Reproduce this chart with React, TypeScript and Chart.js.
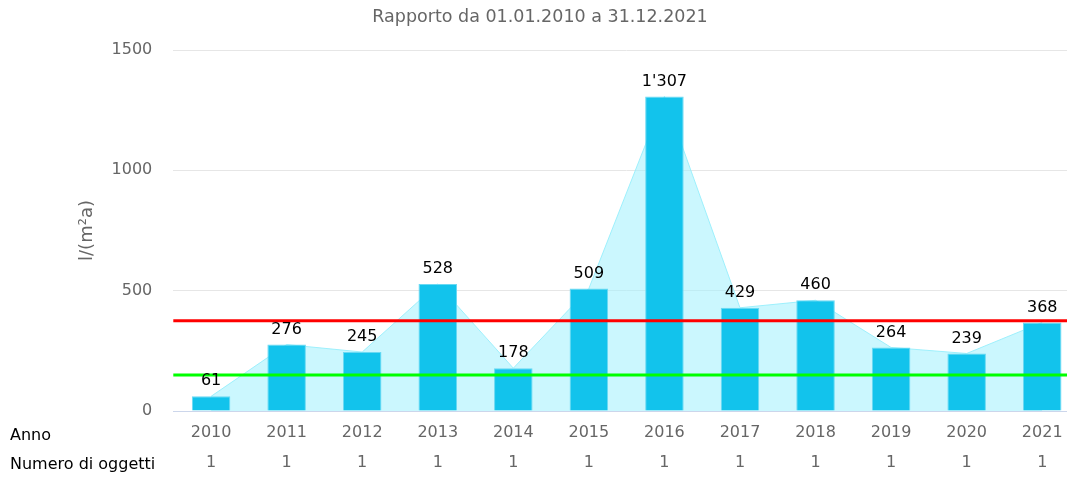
import React, { useEffect, useRef } from "react";
import { Chart, registerables } from "chart.js";

Chart.register(...registerables);

const years = ["2010", "2011", "2012", "2013", "2014", "2015", "2016", "2017", "2018", "2019", "2020", "2021"];
const values = [61, 276, 245, 528, 178, 509, 1307, 429, 460, 264, 239, 368];
const objectCounts = [1, 1, 1, 1, 1, 1, 1, 1, 1, 1, 1, 1];
const yTicks = [0, 500, 1000, 1500];
const redLevel = 375;
const greenLevel = 150;
const titleText = "Rapporto da 01.01.2010 a 31.12.2021";
const yTitle = "l/(m²a)";
const rowLabels = ["Anno", "Numero di oggetti"];

const FONT = "'DejaVu Sans', sans-serif";

function fmt(v: number): string {
  return String(v).replace(/\B(?=(\d{3})+(?!\d))/g, "'");
}

const overlayPlugin = {
  id: "overlay",
  afterDatasetsDraw(chart: any) {
    const { ctx, chartArea, scales } = chart;
    const y = scales.y;
    ctx.save();
    const lines = [
      { v: redLevel, c: "#ff0000" },
      { v: greenLevel, c: "#00ff00" },
    ];
    for (const l of lines) {
      const py = y.getPixelForValue(l.v);
      ctx.beginPath();
      ctx.strokeStyle = l.c;
      ctx.lineWidth = 3;
      ctx.moveTo(chartArea.left, py);
      ctx.lineTo(chartArea.right + 20, py);
      ctx.stroke();
    }
    const meta = chart.getDatasetMeta(0);
    ctx.fillStyle = "#000000";
    ctx.font = `16px ${FONT}`;
    ctx.textAlign = "center";
    ctx.textBaseline = "bottom";
    meta.data.forEach((bar: any, i: number) => {
      ctx.fillText(fmt(values[i]), bar.x, bar.y - 7);
    });
    ctx.restore();
  },
  afterDraw(chart: any) {
    const { ctx, scales } = chart;
    const x = scales.x;
    ctx.save();
    ctx.fillStyle = "#000000";
    ctx.font = `16px ${FONT}`;
    ctx.textAlign = "left";
    ctx.textBaseline = "middle";
    ctx.fillText(rowLabels[0], 10, x.top + 7 + 15 + 3);
    ctx.fillText(rowLabels[1], 10, x.top + 7 + 45 + 2);
    ctx.restore();
  },
};

export default function App() {
  const ref = useRef<HTMLCanvasElement | null>(null);
  useEffect(() => {
    if (!ref.current) return;
    const chart = new Chart(ref.current, {
      type: "bar",
      data: {
        labels: years.map((y, i) => [y, String(objectCounts[i])]),
        datasets: [
          {
            type: "bar",
            data: values,
            backgroundColor: "#12c3ec",
            borderColor: "#6ad9f3",
            borderWidth: 1,
            barPercentage: 0.51,
            categoryPercentage: 1,
            order: 1,
          },
          {
            type: "line",
            data: values,
            fill: "origin",
            backgroundColor: "rgba(160,240,253,0.55)",
            borderColor: "rgba(150,238,252,0.9)",
            borderWidth: 1,
            pointRadius: 0,
            tension: 0,
            order: 2,
          } as any,
        ],
      },
      options: {
        animation: false,
        responsive: false,
        maintainAspectRatio: false,
        layout: { padding: 0 },
        plugins: {
          legend: { display: false },
          tooltip: { enabled: false },
          title: {
            display: true,
            text: titleText,
            color: "#666666",
            font: { family: FONT, size: 17.5, weight: "normal", lineHeight: 1.2 },
            padding: { top: 7, bottom: 22 },
          },
        },
        scales: {
          x: {
            grid: { display: false, drawTicks: false },
            border: { display: true, color: "#ccd6eb", width: 1 },
            ticks: {
              color: "#666666",
              padding: 7,
              font: { family: FONT, size: 16, lineHeight: "30px" } as any,
              maxRotation: 0,
              autoSkip: false,
            },
            afterFit(scale: any) {
              scale.height = 70;
            },
          },
          y: {
            min: 0,
            max: 1500,
            afterBuildTicks(scale: any) {
              scale.ticks = yTicks.map((v) => ({ value: v }));
            },
            grid: {
              color: "#e6e6e6",
              drawTicks: false,
            },
            border: { display: false },
            ticks: {
              color: "#666666",
              padding: 21,
              font: { family: FONT, size: 16 },
              callback: (v: any) => String(v),
            },
            title: {
              display: true,
              text: yTitle,
              color: "#666666",
              font: { family: FONT, size: 18, lineHeight: 1.2 },
              padding: { top: 76.2, bottom: 0 },
            },
            afterFit(scale: any) {
              scale.width = 173.3;
            },
          },
        },
      },
      plugins: [overlayPlugin],
    });
    return () => chart.destroy();
  }, []);

  return (
    <div style={{ position: "fixed", left: 0, top: 0, width: 1067, height: 481, overflow: "hidden", background: "#fff" }}>
      <canvas ref={ref} width={1080} height={481} style={{ display: "block", width: 1080, height: 481 }} />
    </div>
  );
}
